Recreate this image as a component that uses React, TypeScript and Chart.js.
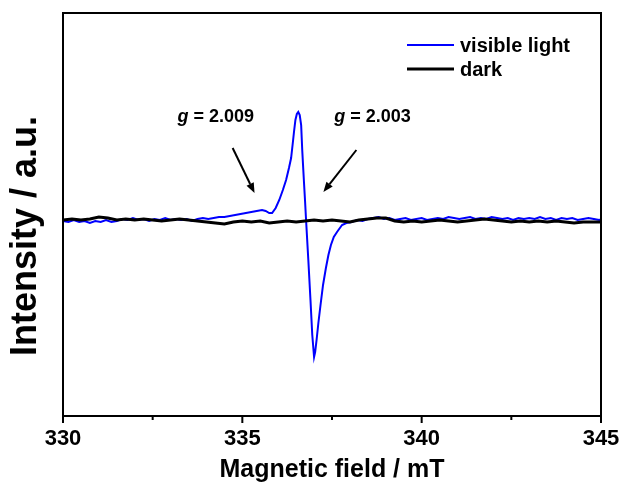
import React, { useEffect, useRef } from "react";
import { Chart, registerables } from "chart.js";

Chart.register(...registerables);

// ---- data ----
const visibleField = [
  330.0, 330.15, 330.3, 330.45, 330.6, 330.75, 330.9, 331.05, 331.2, 331.35, 331.5, 331.65, 331.8, 331.95,
  332.1, 332.25, 332.4, 332.55, 332.7, 332.85, 333.0, 333.15, 333.3, 333.45, 333.6, 333.75, 333.9, 334.05,
  334.2, 334.35, 334.5, 334.65, 334.8, 334.95, 335.1, 335.25, 335.4, 335.55, 335.65, 335.75, 335.83, 335.93,
  336.03, 336.13, 336.22, 336.3, 336.36, 336.41, 336.44, 336.48, 336.52, 336.56, 336.6, 336.64, 336.67, 336.7,
  336.72, 336.75, 336.78, 336.84, 336.9, 336.95, 337.0, 337.03, 337.07, 337.12, 337.18, 337.25, 337.33, 337.4,
  337.47, 337.55, 337.64, 337.78, 337.9, 338.05, 338.2, 338.35, 338.5, 338.65, 338.8, 338.95, 339.1, 339.25,
  339.4, 339.55, 339.7, 339.85, 340.0, 340.15, 340.3, 340.45, 340.6, 340.75, 340.9, 341.05, 341.2, 341.35,
  341.5, 341.65, 341.8, 341.95, 342.1, 342.25, 342.4, 342.55, 342.7, 342.85, 343.0, 343.15, 343.3, 343.45,
  343.6, 343.75, 343.9, 344.05, 344.2, 344.35, 344.5, 344.65, 344.8, 344.95, 345.0,
];
const visibleIntensity = [
  -1, -2, 0, -2, -1, -3, -1, -2, 0, -2, -1, 1, 0, 2,
  0, 1, -1, 1, 0, 2, 0, 1, 0, 1, -1, 1, 2, 1,
  2, 3, 3, 4, 5, 6, 7, 8, 9, 10, 9, 7, 7, 12,
  20, 30, 40, 52, 62, 78, 88, 100, 106, 108, 105, 95, 70, 50,
  37, 18, -2, -40, -80, -115, -137, -132, -120, -103, -85, -65, -48, -35,
  -25, -17, -12, -5, -3, -2, 0, -1, 1, 2, 3, 1, 2, 0,
  1, 2, 0, 1, 2, 0, 1, 2, 1, 3, 2, 1, 2, 3,
  1, 2, 1, 3, 2, 1, 2, 0, 2, 1, 2, 1, 3, 1,
  2, 0, 2, 1, 2, 0, 1, 2, 1, 0, 1,
];
const darkField = [
  330.0, 330.25, 330.5, 330.75, 331.0, 331.25, 331.5, 331.75, 332.0, 332.25, 332.5, 332.75, 333.0, 333.25,
  333.5, 333.75, 334.0, 334.25, 334.5, 334.75, 335.0, 335.25, 335.5, 335.75, 336.0, 336.25, 336.5, 336.75,
  337.0, 337.25, 337.5, 337.75, 338.0, 338.25, 338.5, 338.75, 339.0, 339.25, 339.5, 339.75, 340.0, 340.25,
  340.5, 340.75, 341.0, 341.25, 341.5, 341.75, 342.0, 342.25, 342.5, 342.75, 343.0, 343.25, 343.5, 343.75,
  344.0, 344.25, 344.5, 344.75, 345.0,
];
const darkIntensity = [
  0, 1, 0, 1, 3, 2, 0, 1, 0, 1, 0, -1, 0, 1,
  0, -1, -2, -3, -4, -2, -1, -2, -1, -3, -2, -1, -2, -1,
  0, -1, 0, -1, -2, 0, 1, 2, 2, -1, -2, -1, -2, -1,
  0, -1, -2, -1, 0, 1, 0, -1, -2, -1, -2, -1, -2, -1,
  -2, -3, -2, -2, -2,
];
const seriesNames = ["visible light", "dark"];
const xTicks = [330, 335, 340, 345];
const xMinorTicks = [332.5, 337.5, 342.5];

// annotation labels (data coords)
const annotationTexts = ["2.009", "2.003"];
const annotationLabelPos = [
  [334.26, 103],
  [338.63, 103],
];
const annotationArrows = [
  [334.73, 72, 335.34, 27],
  [338.18, 70, 337.26, 28],
];

const FONT = "'Liberation Sans', Arial, sans-serif";

const decorPlugin = {
  id: "decor",
  afterDatasetsDraw(chart: any) {
    const { ctx, chartArea: ca, scales } = chart;
    const xs = scales.x;
    const ys = scales.y;
    ctx.save();
    // frame
    ctx.strokeStyle = "#000";
    ctx.lineWidth = 2;
    ctx.strokeRect(ca.left, ca.top, ca.right - ca.left, ca.bottom - ca.top);
    // ticks on x axis (outward)
    ctx.beginPath();
    xTicks.forEach((t) => {
      const px = xs.getPixelForValue(t);
      ctx.moveTo(px, ca.bottom);
      ctx.lineTo(px, ca.bottom + 7);
    });
    xMinorTicks.forEach((t) => {
      const px = xs.getPixelForValue(t);
      ctx.moveTo(px, ca.bottom);
      ctx.lineTo(px, ca.bottom + 4);
    });
    ctx.stroke();

    // annotation labels
    ctx.fillStyle = "#000";
    ctx.textBaseline = "middle";
    annotationTexts.forEach((txt, i) => {
      const [vx, vy] = annotationLabelPos[i];
      const cx = xs.getPixelForValue(vx);
      const cy = ys.getPixelForValue(vy);
      const gFont = `italic bold 18px ${FONT}`;
      const rFont = `bold 18px ${FONT}`;
      const rest = " = " + txt;
      ctx.font = gFont;
      const gw = ctx.measureText("g").width;
      ctx.font = rFont;
      const rw = ctx.measureText(rest).width;
      const x0 = cx - (gw + rw) / 2;
      ctx.textAlign = "left";
      ctx.font = gFont;
      ctx.fillText("g", x0, cy);
      ctx.font = rFont;
      ctx.fillText(rest, x0 + gw, cy);
    });

    // arrows
    annotationArrows.forEach(([x1, y1, x2, y2]) => {
      const ax = xs.getPixelForValue(x1);
      const ay = ys.getPixelForValue(y1);
      const bx = xs.getPixelForValue(x2);
      const by = ys.getPixelForValue(y2);
      const ang = Math.atan2(by - ay, bx - ax);
      const head = 10;
      const hw = 4;
      const sx = bx - head * Math.cos(ang);
      const sy = by - head * Math.sin(ang);
      ctx.beginPath();
      ctx.lineWidth = 2;
      ctx.moveTo(ax, ay);
      ctx.lineTo(sx, sy);
      ctx.stroke();
      ctx.beginPath();
      ctx.moveTo(bx, by);
      ctx.lineTo(sx + hw * Math.sin(ang), sy - hw * Math.cos(ang));
      ctx.lineTo(sx - hw * Math.sin(ang), sy + hw * Math.cos(ang));
      ctx.closePath();
      ctx.fill();
    });

    // legend
    const colors = ["#0000ff", "#000000"];
    const widths = [2, 3];
    ctx.font = `bold 20px ${FONT}`;
    ctx.textAlign = "left";
    seriesNames.forEach((name, i) => {
      const y = ca.top + 32 + i * 24;
      ctx.beginPath();
      ctx.strokeStyle = colors[i];
      ctx.lineWidth = widths[i];
      ctx.moveTo(ca.right - 194, y);
      ctx.lineTo(ca.right - 147, y);
      ctx.stroke();
      ctx.fillStyle = "#000";
      ctx.fillText(name, ca.right - 141, y + 1);
    });

    // y title
    ctx.save();
    ctx.translate(26, ca.top + 223);
    ctx.rotate(-Math.PI / 2);
    ctx.textAlign = "center";
    ctx.textBaseline = "middle";
    ctx.font = `bold 36px ${FONT}`;
    ctx.fillStyle = "#000";
    ctx.fillText("Intensity / a.u.", 0, 0);
    ctx.restore();

    ctx.restore();
  },
};

export default function App() {
  const ref = useRef<HTMLCanvasElement | null>(null);
  useEffect(() => {
    if (!ref.current) return;
    const chart = new Chart(ref.current, {
      type: "line",
      data: {
        datasets: [
          {
            label: seriesNames[1],
            data: darkField.map((x, i) => ({ x, y: darkIntensity[i] })),
            borderColor: "#000000",
            borderWidth: 3,
            pointRadius: 0,
            tension: 0,
          },
          {
            label: seriesNames[0],
            data: visibleField.map((x, i) => ({ x, y: visibleIntensity[i] })),
            borderColor: "#0000ff",
            borderWidth: 2,
            pointRadius: 0,
            tension: 0,
          },
        ],
      },
      options: {
        animation: false,
        responsive: false,
        devicePixelRatio: 1,
        layout: { padding: { top: 13, right: 24, left: 0, bottom: 0 } },
        plugins: { legend: { display: false }, tooltip: { enabled: false } },
        scales: {
          x: {
            type: "linear",
            min: 330,
            max: 345,
            afterFit: (s: any) => {
              s.height = 76;
              s.paddingLeft = 0;
              s.paddingRight = 0;
            },
            afterBuildTicks: (s: any) => {
              s.ticks = xTicks.map((v) => ({ value: v }));
            },
            grid: { display: false },
            border: { display: false },
            ticks: {
              color: "#000",
              font: { family: FONT, size: 22, weight: "bold" },
              padding: 2,
              maxRotation: 0,
            },
            title: {
              display: true,
              text: "Magnetic field / mT",
              color: "#000",
              font: { family: FONT, size: 25, weight: "bold", lineHeight: 1 },
              padding: { top: 0, bottom: 9 },
            },
          },
          y: {
            type: "linear",
            min: -196,
            max: 207,
            afterFit: (s: any) => {
              s.width = 63;
            },
            grid: { display: false },
            border: { display: false },
            ticks: { display: false },
          },
        },
      },
      plugins: [decorPlugin],
    });
    return () => chart.destroy();
  }, []);
  return (
    <div style={{ position: "fixed", left: 0, top: 0, width: 625, height: 492, background: "#fff" }}>
      <canvas ref={ref} width={625} height={492} />
    </div>
  );
}
